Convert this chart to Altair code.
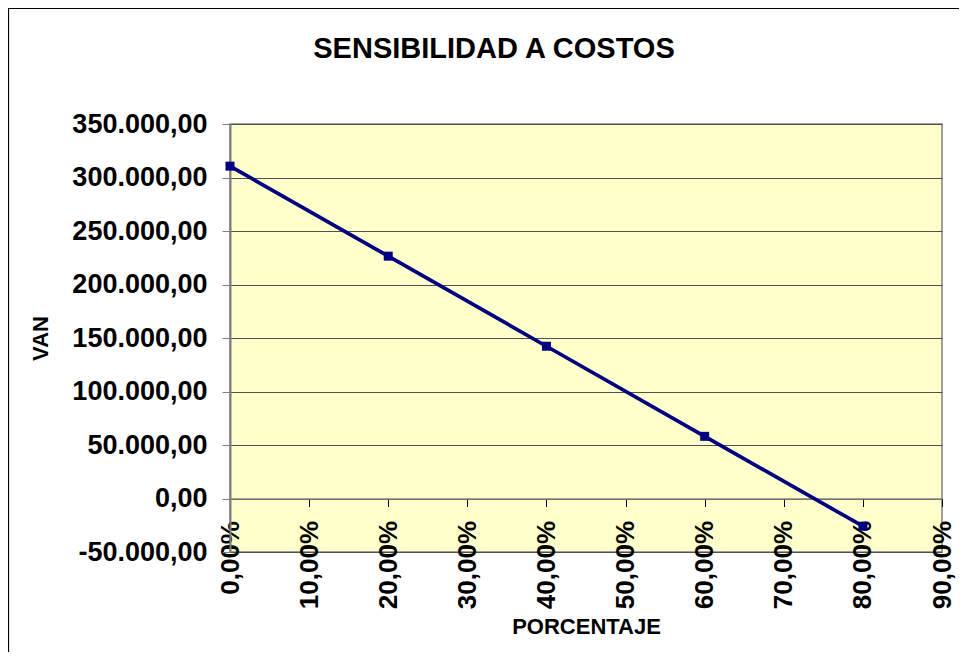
import altair as alt
import pandas as pd

# Data
porcentaje = [0.0, 0.2, 0.4, 0.6, 0.8]
van = [310600, 226500, 142300, 58100, -25900]

y_ticks = [-50000, 0, 50000, 100000, 150000, 200000, 250000, 300000, 350000]
x_ticks = [0.0, 0.1, 0.2, 0.3, 0.4, 0.5, 0.6, 0.7, 0.8, 0.9]

df = pd.DataFrame({"PORCENTAJE": porcentaje, "VAN": van})

FONT = "Liberation Sans"
NAVY = "#000080"

x_enc = alt.X(
    "PORCENTAJE:Q",
    scale=alt.Scale(domain=[0, 0.9], nice=False, zero=False),
    axis=alt.Axis(
        title="PORCENTAJE",
        values=x_ticks,
        format=".2%",
        labelAngle=270,
        offset=-53.5,
        grid=False,
        tickSize=8,
        tickColor="#000000",
        domainColor="#808080",
        domainWidth=1.5,
        labelPadding=14,
        labelFont=FONT,
        labelFontSize=26,
        labelFontWeight="bold",
        labelColor="#000000",
        labelOverlap=False,
        labelFlush=False,
        titleFont=FONT,
        titleFontSize=22,
        titleFontWeight="bold",
        titleColor="#000000",
        titlePadding=8,
    ),
)

y_enc = alt.Y(
    "VAN:Q",
    scale=alt.Scale(domain=[-50000, 350000], nice=False, zero=False),
    axis=alt.Axis(
        title="VAN",
        values=y_ticks,
        format=",.2f",
        grid=True,
        gridColor="#505050",
        gridWidth=1,
        tickSize=8,
        tickColor="#808080",
        domainColor="#808080",
        domainWidth=2,
        labelPadding=15,
        labelFont=FONT,
        labelFontSize=27,
        labelFontWeight="bold",
        labelColor="#000000",
        labelOverlap=False,
        labelFlush=False,
        titleFont=FONT,
        titleFontSize=22,
        titleFontWeight="bold",
        titleColor="#000000",
        titlePadding=19,
    ),
)

base = alt.Chart(df)

line = base.mark_line(color=NAVY, strokeWidth=3.7).encode(x=x_enc, y=y_enc)
points = base.mark_point(shape="square", filled=True, size=81, color=NAVY, opacity=1).encode(
    x="PORCENTAJE:Q", y="VAN:Q"
)

frame = alt.Chart(alt.Data(values=[{}])).mark_rect(
    fill=None, stroke="#000000", strokeWidth=1.2
).encode(
    x=alt.value(-221.5), x2=alt.value(800), y=alt.value(-115.5), y2=alt.value(700)
)

chart = (
    alt.layer(frame, line, points)
    .properties(
        width=712,
        height=428,
        title=alt.TitleParams(
            "SENSIBILIDAD A COSTOS",
            font=FONT,
            fontSize=29,
            fontWeight="bold",
            color="#000000",
            anchor="middle",
            frame="group",
            dx=-92,
            offset=-56,
        ),
        autosize=alt.AutoSizeParams(type="none"),
        padding={"left": 222, "top": 116, "right": 17, "bottom": 100},
        background="#ffffff",
    )
    .configure_view(fill="#FFFFCC", stroke="#808080", strokeWidth=1.5)
)

chart.save(
    "out.html",
    embed_options={
        "renderer": "svg",
        "actions": False,
        "formatLocale": {
            "decimal": ",",
            "thousands": ".",
            "grouping": [3],
            "currency": ["", ""],
            "minus": "-",
        },
    },
)
